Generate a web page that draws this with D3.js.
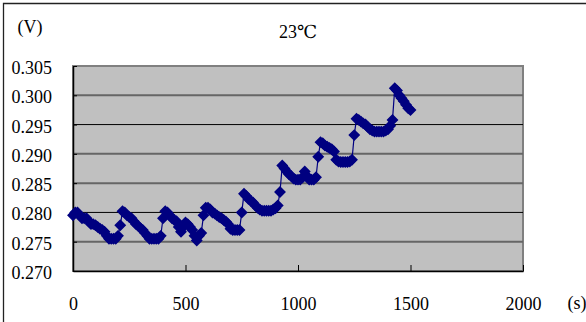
<!DOCTYPE html>
<html>
<head>
<meta charset="utf-8">
<script src="https://cdn.jsdelivr.net/npm/d3@7"></script>
<style>
  body { margin: 0; background: #fff; }
  text { font-family: "Liberation Serif", "DejaVu Serif", serif; fill: #000; }
</style>
</head>
<body>
<div class="chart"></div>
<script>
// sample times (s)
var times = [
  0, 10, 20, 30, 40, 50, 60, 70, 80, 90,
  100, 110, 120, 130, 140, 150, 160, 170, 180, 190,
  200, 210, 220, 230, 240, 250, 260, 270, 280, 290,
  300, 310, 320, 330, 340, 350, 360, 370, 380, 390,
  400, 410, 420, 430, 440, 450, 460, 470, 480, 490,
  500, 510, 520, 530, 540, 550, 560, 570, 580, 590,
  600, 610, 620, 630, 640, 650, 660, 670, 680, 690,
  700, 710, 720, 730, 740, 750, 760, 770, 780, 790,
  800, 810, 820, 830, 840, 850, 860, 870, 880, 890,
  900, 910, 920, 930, 940, 950, 960, 970, 980, 990,
  1000, 1010, 1020, 1030, 1040, 1050, 1060, 1070, 1080, 1090,
  1100, 1110, 1120, 1130, 1140, 1150, 1160, 1170, 1180, 1190,
  1200, 1210, 1220, 1230, 1240, 1250, 1260, 1270, 1280, 1290,
  1300, 1310, 1320, 1330, 1340, 1350, 1360, 1370, 1380, 1390,
  1400, 1410, 1420, 1430, 1440, 1450, 1460, 1470, 1480, 1490,
  1500
];

// measured voltage (V)
var volts = [
  0.2795, 0.2800, 0.2800, 0.2795, 0.2790, 0.2790, 0.2790, 0.2785, 0.2780, 0.2780,
  0.2778, 0.2775, 0.2772, 0.2770, 0.2767, 0.2760, 0.2755, 0.2755, 0.2755, 0.2755,
  0.2760, 0.2778, 0.2802, 0.2800, 0.2795, 0.2792, 0.2790, 0.2785, 0.2780, 0.2777,
  0.2773, 0.2770, 0.2765, 0.2760, 0.2755, 0.2755, 0.2755, 0.2755, 0.2755, 0.2760,
  0.2790, 0.2802, 0.2800, 0.2795, 0.2790, 0.2787, 0.2785, 0.2775, 0.2767, 0.2775,
  0.2783, 0.2780, 0.2775, 0.2770, 0.2760, 0.2752, 0.2760, 0.2765, 0.2795, 0.2808,
  0.2808, 0.2805, 0.2800, 0.2798, 0.2795, 0.2792, 0.2790, 0.2787, 0.2784, 0.2780,
  0.2772, 0.2770, 0.2770, 0.2770, 0.2770, 0.2800, 0.2832, 0.2828, 0.2823, 0.2820,
  0.2817, 0.2812, 0.2808, 0.2805, 0.2803, 0.2803, 0.2803, 0.2803, 0.2803, 0.2805,
  0.2807, 0.2812, 0.2835, 0.2880, 0.2875, 0.2870, 0.2865, 0.2862, 0.2858, 0.2856,
  0.2856, 0.2856, 0.2860, 0.2870, 0.2862, 0.2856, 0.2856, 0.2856, 0.2860, 0.2895,
  0.2920, 0.2918, 0.2914, 0.2912, 0.2910, 0.2908, 0.2904, 0.2890, 0.2887, 0.2886,
  0.2886, 0.2886, 0.2886, 0.2887, 0.2890, 0.2932, 0.2960, 0.2958, 0.2955, 0.2952,
  0.2950, 0.2946, 0.2942, 0.2940, 0.2938, 0.2938, 0.2938, 0.2938, 0.2938, 0.2940,
  0.2942, 0.2948, 0.2958, 0.3012, 0.3008, 0.3000, 0.2995, 0.2990, 0.2984, 0.2978,
  0.2975
];

var xTicks = [0, 500, 1000, 1500, 2000];
var yTicks = [0.270, 0.275, 0.280, 0.285, 0.290, 0.295, 0.300, 0.305];
// gridlines that show up black in the original, the rest are grey
var darkGrid = [0.280, 0.295];

var svgWidth = 586;
var svgHeight = 322;

var margin = { top: 66, right: 63, bottom: 51, left: 73 };
var width = svgWidth - margin.left - margin.right;
var height = svgHeight - margin.top - margin.bottom;

var svg = d3.select(".chart")
  .append("svg")
  .attr("width", svgWidth)
  .attr("height", svgHeight);

svg.append("rect")
  .attr("width", svgWidth)
  .attr("height", svgHeight)
  .attr("fill", "#fff");

// outer frame (only top and left edges are visible)
svg.append("path")
  .attr("d", "M3.5," + svgHeight + "V3.5H" + svgWidth)
  .attr("fill", "none")
  .attr("stroke", "#222")
  .attr("stroke-width", 1.3);

var chartGroup = svg.append("g")
  .attr("transform", `translate(${margin.left}, ${margin.top})`);

var xScale = d3.scaleLinear().domain([0, 2000]).range([0, width]);
var yScale = d3.scaleLinear().domain([0.270, 0.305]).range([height, 0]);

// plot area
chartGroup.append("rect")
  .attr("width", width)
  .attr("height", height)
  .attr("fill", "#c0c0c0")
  .attr("stroke", "#808080")
  .attr("stroke-width", 2);

// gridlines
chartGroup.selectAll(".grid")
  .data(yTicks.slice(1, -1))
  .enter()
  .append("line")
  .attr("class", "grid")
  .attr("x1", 0)
  .attr("x2", width)
  .attr("y1", d => yScale(d))
  .attr("y2", d => yScale(d))
  .attr("stroke", d => darkGrid.some(g => Math.abs(g - d) < 1e-6) ? "#000" : "#666")
  .attr("stroke-width", d => darkGrid.some(g => Math.abs(g - d) < 1e-6) ? 1 : 2);

// axes
var bottomAxis = d3.axisBottom(xScale)
  .tickValues(xTicks)
  .tickSizeInner(-6)
  .tickSizeOuter(0)
  .tickPadding(26)
  .tickFormat(d3.format("d"));

var leftAxis = d3.axisLeft(yScale)
  .tickValues(yTicks)
  .tickSizeInner(-4)
  .tickSizeOuter(0)
  .tickPadding(21)
  .tickFormat(d3.format(".3f"));

var xAxis = chartGroup.append("g")
  .attr("transform", `translate(0, ${height})`)
  .call(bottomAxis);

var yAxis = chartGroup.append("g")
  .call(leftAxis);

[xAxis, yAxis].forEach(function (ax) {
  ax.attr("font-family", null);
  ax.select(".domain").attr("stroke", "#000").attr("stroke-width", 1.5);
  ax.selectAll(".tick line").attr("stroke", "#000");
  ax.selectAll(".tick text")
    .style("font-family", "'Liberation Serif', serif")
    .style("font-size", "18px")
    .attr("fill", "#000");
});
yAxis.selectAll(".tick text").attr("dy", "0.42em");

// data line + diamond markers
var line = d3.line()
  .x((d, i) => xScale(times[i]))
  .y(d => yScale(d));

chartGroup.append("path")
  .datum(volts)
  .attr("d", line)
  .attr("fill", "none")
  .attr("stroke", "#000080")
  .attr("stroke-width", 1.2);

var diamond = d3.symbol().type(d3.symbolSquare).size(48);

chartGroup.selectAll(".pt")
  .data(volts)
  .enter()
  .append("path")
  .attr("class", "pt")
  .attr("d", diamond)
  .attr("transform", (d, i) => `translate(${xScale(times[i])}, ${yScale(d)}) rotate(45)`)
  .attr("fill", "#000080")
  .attr("stroke", "#000080")
  .attr("stroke-width", 1.5);

// labels
svg.append("text")
  .attr("x", 30)
  .attr("y", 33)
  .attr("text-anchor", "middle")
  .style("font-size", "18px")
  .text("(V)");

svg.append("text")
  .attr("x", 298)
  .attr("y", 38)
  .attr("text-anchor", "middle")
  .style("font-size", "18px")
  .text("23℃");

svg.append("text")
  .attr("x", 577)
  .attr("y", 309)
  .attr("text-anchor", "middle")
  .style("font-size", "18px")
  .text("(s)");
</script>
</body>
</html>
